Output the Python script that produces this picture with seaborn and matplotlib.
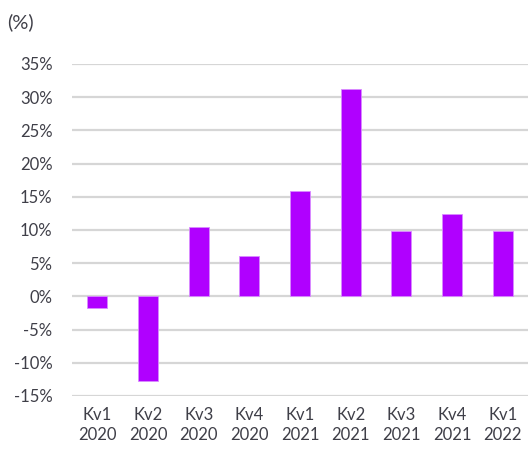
import pandas as pd
import matplotlib.pyplot as plt
import seaborn as sns
from matplotlib.ticker import FuncFormatter

kvartal = ['Kv1\n2020', 'Kv2\n2020', 'Kv3\n2020', 'Kv4\n2020', 'Kv1\n2021',
           'Kv2\n2021', 'Kv3\n2021', 'Kv4\n2021', 'Kv1\n2022']
forandring = [-1.8, -12.7, 10.4, 6.1, 15.9, 31.3, 9.9, 12.4, 9.9]

df = pd.DataFrame({'kvartal': kvartal, 'forandring': forandring})

sns.set_style('white')
plt.rcParams['font.family'] = ['Lato', 'DejaVu Sans']

fig = plt.figure(figsize=(5.3, 4.5), dpi=100)
ax = fig.add_axes([72 / 530, 1 - 396 / 450, (528 - 72) / 530, (396 - 64) / 450])

sns.barplot(data=df, x='kvartal', y='forandring', color='#B000FF',
            width=0.4, saturation=1, edgecolor='#D98CFF', linewidth=0.6, ax=ax, zorder=3)

ax.set_ylim(-15, 35)
ax.set_yticks(range(-15, 36, 5))
ax.yaxis.set_major_formatter(FuncFormatter(lambda v, p: f'{v:.0f}%'))
ax.grid(axis='y', color='#D6D6D6', linewidth=1.6, zorder=0)
ax.set_axisbelow(True)
sns.despine(ax=ax, left=True, bottom=True, top=True, right=True)
ax.set_xlabel('')
ax.set_ylabel('')
ax.tick_params(axis='both', length=0, labelsize=12, colors='#3F3F48')
ax.tick_params(axis='y', pad=14)
ax.tick_params(axis='x', pad=8)
for lab in ax.get_xticklabels():
    lab.set_linespacing(1.3)

fig.text(7 / 530, 1 - 22 / 450, '(%)', fontsize=14.5, color='#3F3F48', va='center')

fig.savefig('out.png', dpi=100)
